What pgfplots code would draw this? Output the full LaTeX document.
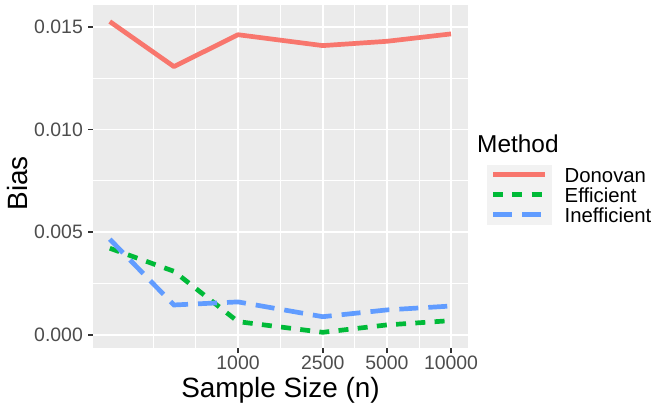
\documentclass[border=0pt]{standalone}
\usepackage{fontspec}
\setmainfont{Liberation Sans}
\usepackage{pgfplots}
\pgfplotsset{compat=1.18}
\definecolor{donovan}{HTML}{F8766D}
\definecolor{efficient}{HTML}{00BA38}
\definecolor{inefficient}{HTML}{619CFF}
\definecolor{panelbg}{HTML}{EBEBEB}
\definecolor{keybg}{HTML}{F2F2F2}
\definecolor{ticklab}{HTML}{4D4D4D}
\definecolor{tickcol}{HTML}{333333}
\begin{document}
\begin{tikzpicture}[x=1bp,y=1bp]
\useasboundingbox (0,0) rectangle (664,410);
\fill[white] (0,0) rectangle (664,410);
\begin{axis}[
  at={(93bp,62bp)}, anchor=south west,
  scale only axis, width=375bp, height=343bp,
  xmode=log, xmin=208.5, xmax=12018, ymin=-0.000633, ymax=0.016056,
  axis background/.style={fill=panelbg},
  axis line style={draw=none},
  xtick={1000,2500,5000,10000}, xticklabels={1000,2500,5000,10000},
  minor xtick={400,632.5,1581,3536,7071},
  ytick={0,0.005,0.01,0.015}, yticklabels={0.000,0.005,0.010,0.015},
  minor ytick={0.0025,0.0075,0.0125},
  scaled y ticks=false,
  grid=both,
  major grid style={white, line width=1.7bp},
  minor grid style={white, line width=0.85bp},
  tick pos=left, tick align=outside,
  major tick length=5bp, minor tick length=0pt,
  tick style={tickcol, line width=1.7bp},
  /pgf/number format/assume math mode=true,
  ticklabel style={font=\fontsize{19.5}{19.5}\selectfont, text=ticklab, inner sep=0pt},
  xticklabel style={anchor=north, yshift=-3bp},
  yticklabel style={anchor=east, xshift=-5bp},
  xlabel={Sample Size (n)},
  xlabel style={at={(axis description cs:0.5,-0.1429)}, anchor=base, inner sep=0pt, font=\fontsize{28}{28}\selectfont},
  ylabel={Bias},
  ylabel style={at={(axis description cs:-0.176,0.48)}, anchor=base, inner sep=0pt, font=\fontsize{28}{28}\selectfont},
]
\addplot[donovan, line width=4.7bp, line join=round] coordinates {(250,0.01525) (500,0.01306) (1000,0.01461) (2500,0.01408) (5000,0.01429) (10000,0.01465)};
\addplot[efficient, line width=4.7bp, dash pattern=on 10bp off 9.3bp] coordinates {(250,0.00422) (500,0.00310) (1000,0.00065) (2500,0.00013) (5000,0.00049) (10000,0.00070)};
\addplot[inefficient, line width=4.7bp, dash pattern=on 19bp off 10bp] coordinates {(250,0.00466) (500,0.00146) (1000,0.00161) (2500,0.00089) (5000,0.00122) (10000,0.00141)};
\end{axis}
\fill[keybg] (487,185) rectangle (552,245);
\node[anchor=base west, inner sep=0pt, font=\fontsize{24.5}{24.5}\selectfont] at (477,258) {Method};
\draw[donovan, line width=4.7bp] (493,235.7) -- (545,235.7);
\draw[efficient, line width=4.7bp, dash pattern=on 10bp off 9.3bp] (493,215.7) -- (545,215.7);
\draw[inefficient, line width=4.7bp, dash pattern=on 19bp off 10bp] (493,195.7) -- (545,195.7);
\begin{scope}[every node/.style={anchor=base west, inner sep=0pt, font=\fontsize{20.4}{20.4}\selectfont}]
\node at (564.5,227.7) {Donovan};
\node at (564.5,207.7) {Efficient};
\node at (564.5,187.7) {Inefficient};
\end{scope}
\end{tikzpicture}
\end{document}
